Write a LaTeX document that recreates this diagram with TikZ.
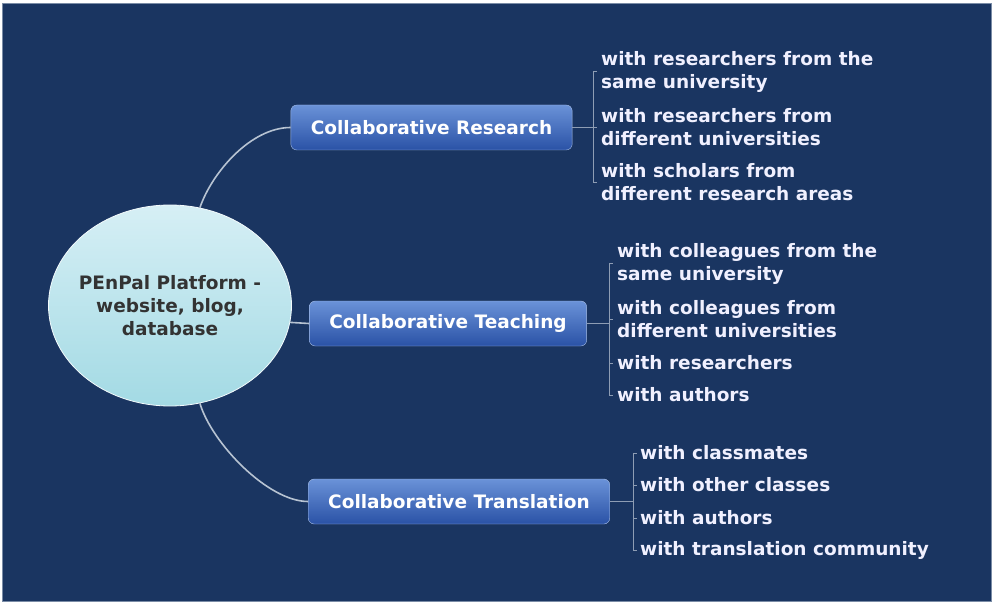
\documentclass[tikz,border=0pt]{standalone}
\usepackage{fontspec}
\setmainfont{DejaVu Sans}
\usepackage{xcolor}
\usepackage{tikz}
\usetikzlibrary{shapes.geometric,positioning}
\definecolor{backcolor}{HTML}{1A3561}
\definecolor{framecolor}{HTML}{7A8CA6}
\definecolor{boxtop}{HTML}{6A92D8}
\definecolor{boxbottom}{HTML}{2A52A6}
\definecolor{hubtop}{HTML}{D6EFF5}
\definecolor{hubbottom}{HTML}{A3DAE4}
\definecolor{hubtext}{HTML}{333333}
\definecolor{linecolor}{HTML}{B7C3D2}
\definecolor{twigcolor}{HTML}{8E9DB4}

\begin{document}
\begin{tikzpicture}[
    x=1pt, y=-1pt,
    every node/.style={font=\bfseries\fontsize{18.5}{23}\selectfont},
    hub/.style={ellipse, draw=white!70!hubtop, line width=0.8pt,
                top color=hubtop, bottom color=hubbottom,
                minimum width=243pt, minimum height=201pt,
                inner xsep=-7pt, inner ysep=0pt, align=center, text=hubtext},
    branch/.style={rectangle, draw=boxtop!60!white, rounded corners=6pt,
                   top color=boxtop, bottom color=boxbottom,
                   text=white, minimum height=45pt, inner xsep=20pt},
    leaf/.style={anchor=west, inner sep=0pt, align=left, text=white!94!blue},
    link/.style={linecolor, line width=1.6pt},
    twig/.style={twigcolor, line width=0.9pt}
]
\useasboundingbox (0,0) rectangle (996,604);
\fill[white] (0,0) rectangle (996,604);
\filldraw[fill=backcolor, draw=framecolor, line width=0.8pt] (2,3) rectangle (991,601);

\node[hub] (hub) at (170,305.5) {PEnPal Platform -\\website, blog,\\database};

\node[branch] (res) at (431.5,127.5) {Collaborative Research};
\node[branch] (teach) at (448,323.5) {Collaborative Teaching};
\node[branch] (trans) at (459,501.5) {Collaborative Translation};

% research leaves
\node[leaf] (r1) at (601,71.5) {with researchers from the\\same university};
\node[leaf] (r2) at (601,127.5) {with researchers from\\different universities};
\node[leaf] (r3) at (601,182.5) {with scholars from\\different research areas};

% teaching leaves
\node[leaf] (t1) at (617,263.5) {with colleagues from the\\same university};
\node[leaf] (t2) at (617,319) {with colleagues from\\different universities};
\node[leaf] (t3) at (617,363) {with researchers};
\node[leaf] (t4) at (617,395) {with authors};

% translation leaves
\node[leaf] (l1) at (640,453) {with classmates};
\node[leaf] (l2) at (640,485) {with other classes};
\node[leaf] (l3) at (640,518) {with authors};
\node[leaf] (l4) at (640,550) {with translation community};

\coordinate (rsp) at (593,127.5);
\coordinate (tsp) at (609,323.5);
\coordinate (lsp) at (633,501.5);

% hub to branches
\draw[link] (hub.73) .. controls +(12,-35) and +(-40,0) .. (res.west);
\draw[link] (hub.-8) -- (teach.west);
\draw[link] (hub.-73) .. controls +(12,40) and +(-40,0) .. (trans.west);

% brackets
\draw[twig] (res.east) -- (rsp);
\draw[twig] (r1.west -| rsp) -- (r3.west -| rsp);
\foreach \n in {r1,r2,r3}
  \draw[twig] (\n.west -| rsp) -- ++(4,0);

\draw[twig] (teach.east) -- (tsp);
\draw[twig] (t1.west -| tsp) -- (t4.west -| tsp);
\foreach \n in {t1,t2,t3,t4}
  \draw[twig] (\n.west -| tsp) -- ++(4,0);

\draw[twig] (trans.east) -- (lsp);
\draw[twig] (l1.west -| lsp) -- (l4.west -| lsp);
\foreach \n in {l1,l2,l3,l4}
  \draw[twig] (\n.west -| lsp) -- ++(4,0);
\end{tikzpicture}
\end{document}
